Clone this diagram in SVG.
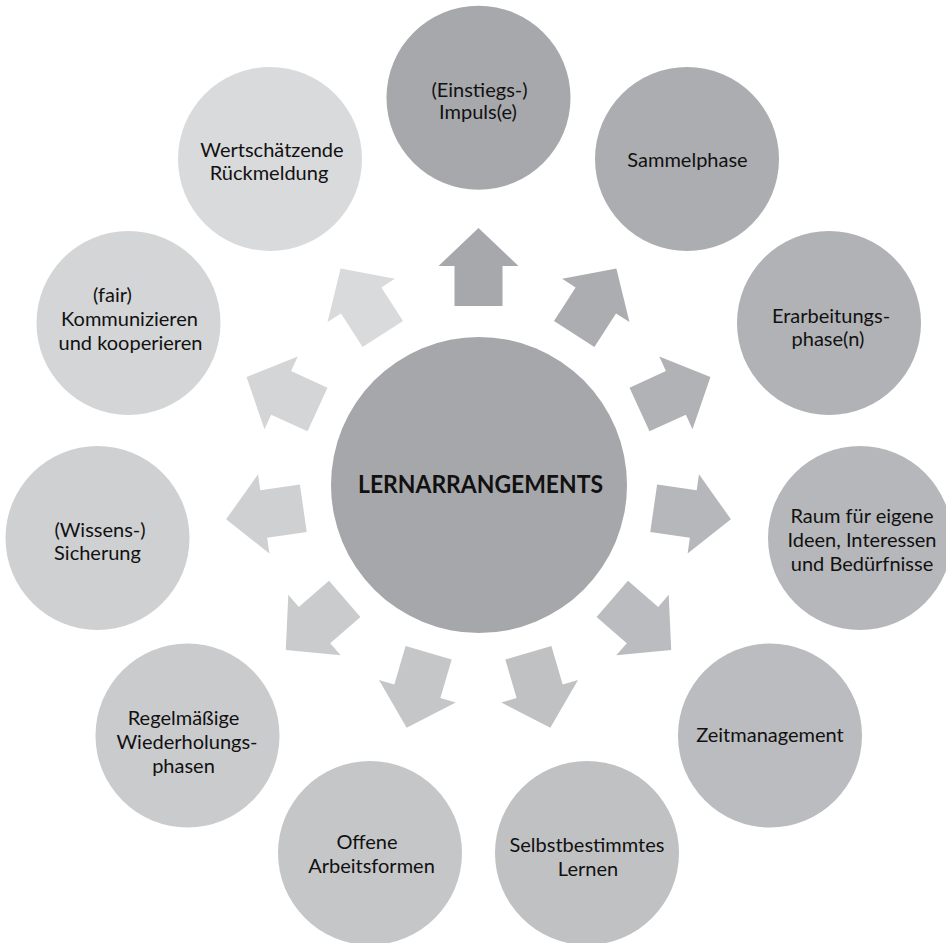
<svg xmlns="http://www.w3.org/2000/svg" width="946" height="943" viewBox="0 0 946 943">
<style>
text{font-family:Lato,"Liberation Sans",sans-serif;font-size:20px;fill:#111;text-anchor:middle}
.c{font-weight:bold;font-size:24px}
</style>
<defs>
<polygon id="arw" points="0,-255 40,-217 24,-217 24,-177 -24,-177 -24,-217 -40,-217"/>
</defs>
<rect width="946" height="943" fill="#fff"/>
<g id="connectors">
<use href="#arw" fill="#a7a8ab" transform="translate(478.5,483) rotate(0)"/>
<use href="#arw" fill="#acadb0" transform="translate(478.5,483) rotate(32.727)"/>
<use href="#arw" fill="#b1b2b5" transform="translate(478.5,483) rotate(65.455)"/>
<use href="#arw" fill="#b6b7ba" transform="translate(478.5,483) rotate(98.182)"/>
<use href="#arw" fill="#bbbcbf" transform="translate(478.5,483) rotate(130.909)"/>
<use href="#arw" fill="#c0c1c3" transform="translate(478.5,483) rotate(163.636)"/>
<use href="#arw" fill="#c5c6c8" transform="translate(478.5,483) rotate(196.364)"/>
<use href="#arw" fill="#cacbcd" transform="translate(478.5,483) rotate(229.091)"/>
<use href="#arw" fill="#cfd0d2" transform="translate(478.5,483) rotate(261.818)"/>
<use href="#arw" fill="#d4d5d6" transform="translate(478.5,483) rotate(294.545)"/>
<use href="#arw" fill="#d9dadb" transform="translate(478.5,483) rotate(327.273)"/>
</g>
<g id="center">
<circle cx="479" cy="485" r="148" fill="#a6a7aa"/>
<text class="c" x="480.5" y="493" textLength="245" lengthAdjust="spacingAndGlyphs">LERNARRANGEMENTS</text>
</g>
<g id="n0">
<circle cx="478.5" cy="97.7" r="92" fill="#a7a8ab"/>
<text x="479.5" y="97">(Einstiegs-)</text>
<text x="478" y="119">Impuls(e)</text>
</g>
<g id="n1">
<circle cx="687" cy="159" r="92" fill="#acadb0"/>
<text x="687.5" y="166.5">Sammelphase</text>
</g>
<g id="n2">
<circle cx="829" cy="323" r="92" fill="#b1b2b5"/>
<text x="831" y="323">Erarbeitungs-</text>
<text x="828" y="346">phase(n)</text>
</g>
<g id="n3">
<circle cx="860" cy="538" r="92" fill="#b6b7ba"/>
<text x="862" y="523">Raum für eigene</text>
<text x="862" y="547">Ideen, Interessen</text>
<text x="862" y="571">und Bedürfnisse</text>
</g>
<g id="n4">
<circle cx="770" cy="735.5" r="92" fill="#bbbcbf"/>
<text x="770" y="742">Zeitmanagement</text>
</g>
<g id="n5">
<circle cx="587" cy="853" r="92" fill="#c0c1c3"/>
<text x="587" y="852">Selbstbestimmtes</text>
<text x="588" y="876">Lernen</text>
</g>
<g id="n6">
<circle cx="370" cy="853" r="92" fill="#c5c6c8"/>
<text x="367" y="849">Offene</text>
<text x="371.5" y="873">Arbeitsformen</text>
</g>
<g id="n7">
<circle cx="187.5" cy="735.5" r="92" fill="#cacbcd"/>
<text x="183.5" y="725">Regelmäßige</text>
<text x="187" y="749">Wiederholungs-</text>
<text x="183.5" y="773">phasen</text>
</g>
<g id="n8">
<circle cx="97.5" cy="538" r="92" fill="#cfd0d2"/>
<text x="100" y="537">(Wissens-)</text>
<text x="97.5" y="560">Sicherung</text>
</g>
<g id="n9">
<circle cx="128.5" cy="323" r="92" fill="#d4d5d6"/>
<text x="112.5" y="302">(fair)</text>
<text x="129.5" y="326">Kommunizieren</text>
<text x="130.5" y="350">und kooperieren</text>
</g>
<g id="n10">
<circle cx="270" cy="159" r="92" fill="#d9dadb"/>
<text x="272" y="157">Wertschätzende</text>
<text x="269" y="180">Rückmeldung</text>
</g>
</svg>
